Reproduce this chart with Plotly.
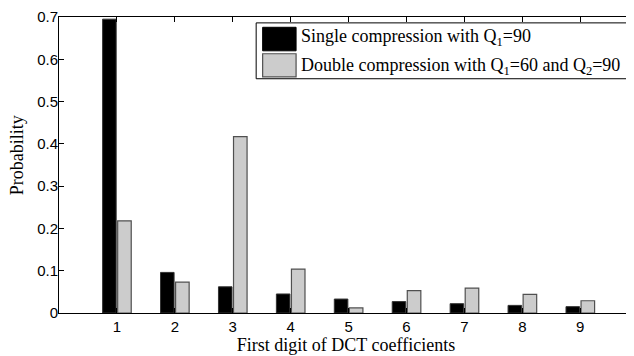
import plotly.graph_objects as go

# ---- data ----
digits = [1, 2, 3, 4, 5, 6, 7, 8, 9]
single_q90 = [0.695, 0.096, 0.062, 0.045, 0.033, 0.027, 0.022, 0.018, 0.015]
double_q60_q90 = [0.218, 0.073, 0.417, 0.104, 0.012, 0.053, 0.059, 0.044, 0.029]
y_ticks = [0, 0.1, 0.2, 0.3, 0.4, 0.5, 0.6, 0.7]
label_single = "Single compression with Q<sub>1</sub>=90"
label_double = "Double compression with Q<sub>1</sub>=60 and Q<sub>2</sub>=90"
x_title = "First digit of DCT coefficients"
y_title = "Probability"

# page has an 8px default body margin; the figure is sized to end at the window edge
OFF = 8
W, H = 634 - OFF, 356 - OFF
L, R, T, B = 59 - OFF, 0, 11 - OFF, 43
SERIF = "Liberation Serif"
SANS = "Liberation Sans"

def px_x(px):
    return (px - OFF - L) / (W - L - R)

def px_y(py):
    return (H - B - (py - OFF)) / (H - T - B)

fig = go.Figure()
fig.add_trace(go.Bar(x=digits, y=single_q90, name="Single",
                     marker=dict(color="black", line=dict(color="#333333", width=1)),
                     showlegend=False))
fig.add_trace(go.Bar(x=digits, y=double_q60_q90, name="Double",
                     marker=dict(color="#cccccc", line=dict(color="#505050", width=1.2)),
                     showlegend=False))

axis_common = dict(showline=True, linecolor="black", linewidth=1, mirror="ticks",
                   ticks="inside", ticklen=5, tickcolor="black", tickwidth=1,
                   showgrid=False, zeroline=False, ticklabeloverflow="allow",
                   tickfont=dict(family=SANS, size=15, color="black"))

fig.update_layout(
    width=W, height=H,
    margin=dict(l=L, r=R, t=T, b=B),
    paper_bgcolor="white", plot_bgcolor="white",
    barmode="group", bargap=0.48, bargroupgap=0.1,
    xaxis=dict(range=[0, 9.91], tickvals=digits,
               title=dict(text=x_title,
                          font=dict(family=SERIF, size=18, color="black"), standoff=4),
               **axis_common),
    yaxis=dict(range=[0, 0.7001], tickvals=y_ticks, ticktext=[f"{v:g}" for v in y_ticks],
               ticklabelstandoff=-3,
               **axis_common),
)

# y-axis title placed as rotated annotation
fig.add_annotation(xref="paper", yref="paper", x=px_x(16.5), y=px_y(152.5),
                   xanchor="center", yanchor="middle", showarrow=False, textangle=-90,
                   text=y_title, font=dict(family=SERIF, size=18, color="black"))

# ---- legend box (drawn as layout decoration) ----
fig.add_shape(type="rect", xref="paper", yref="paper",
              x0=px_x(256.5), x1=px_x(628), y0=px_y(74), y1=px_y(17),
              line=dict(color="black", width=1), fillcolor="white", layer="above")
fig.add_shape(type="rect", xref="paper", yref="paper",
              x0=px_x(263), x1=px_x(296.5), y0=px_y(45.5), y1=px_y(21.5),
              line=dict(color="black", width=1), fillcolor="black", layer="above")
fig.add_shape(type="rect", xref="paper", yref="paper",
              x0=px_x(263), x1=px_x(296.5), y0=px_y(72), y1=px_y(48.5),
              line=dict(color="#505050", width=1.2), fillcolor="#cccccc", layer="above")
fig.add_annotation(xref="paper", yref="paper", x=px_x(299), y=px_y(32),
                   xanchor="left", yanchor="middle", showarrow=False,
                   text=label_single, font=dict(family=SERIF, size=18, color="black"))
fig.add_annotation(xref="paper", yref="paper", x=px_x(299), y=px_y(61),
                   xanchor="left", yanchor="middle", showarrow=False,
                   text=label_double, font=dict(family=SERIF, size=18, color="black"))

fig.write_html("out.html")
